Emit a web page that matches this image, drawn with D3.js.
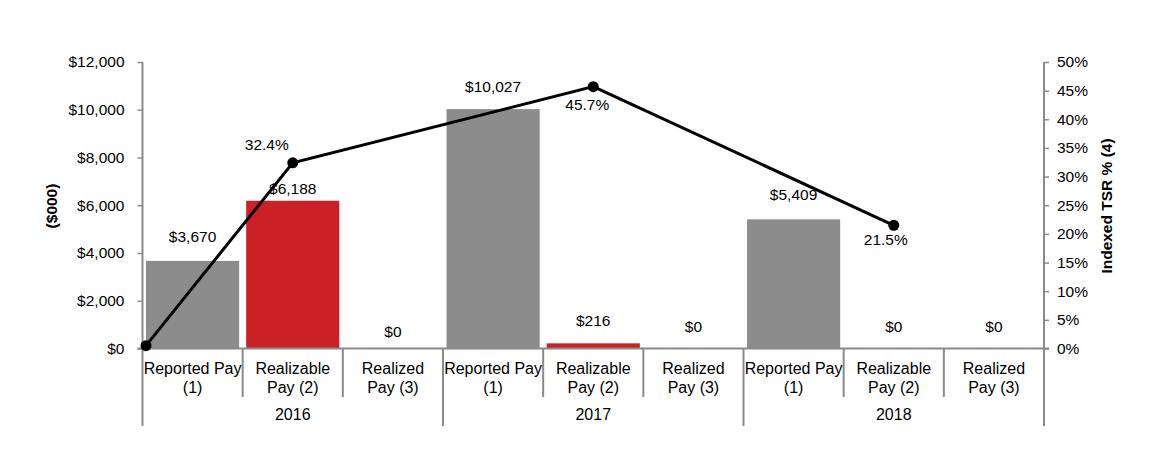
<!DOCTYPE html>
<html><head><meta charset="utf-8">
<script src="https://cdn.jsdelivr.net/npm/d3@7"></script>
<style>
body{margin:0;background:#fff;}
text{font-family:"Liberation Sans",Arial,sans-serif;fill:#000;}
</style></head>
<body><svg id="c" width="1158" height="466"></svg>
<script>
const years = ["2016","2017","2018"];
const payTypes = [["Reported Pay","(1)"],["Realizable","Pay (2)"],["Realized","Pay (3)"]];
const payValues = [3670, 6188, 0, 10027, 216, 0, 5409, 0, 0];
const payLabels = ["$3,670","$6,188","$0","$10,027","$216","$0","$5,409","$0","$0"];
const tsrAt = ["start","2016","2017","2018"];
const tsrValues = [0.5, 32.4, 45.7, 21.5];
const tsrLabels = ["", "32.4%", "45.7%", "21.5%"];
const leftTicks = [0,2000,4000,6000,8000,10000,12000];
const rightTicks = [0,5,10,15,20,25,30,35,40,45,50];

// styles (not data)
const labelLift = [24, 12, 17, 22, 22, 22, 24, 22, 22];
const tsrLabelOffset = [[0,0],[-26,-18],[-6,18],[-8,15]];
const GRAY = "#8c8c8c", RED = "#cc2027", AXIS = "#8a8a8a";

const svg = d3.select("#c");
const L = 142.5, R = 1044, T = 62, B = 348.5;

const cells = [];
years.forEach(y => payTypes.forEach((p, j) => cells.push({year: y, type: j, key: y + "|" + j})));
cells.forEach((c, i) => { c.value = payValues[i]; c.label = payLabels[i]; c.lift = labelLift[i]; });

const x = d3.scaleBand().domain(cells.map(c => c.key)).range([L, R]).padding(0);
const yL = d3.scaleLinear().domain([0, 12000]).range([B, T]);
const yR = d3.scaleLinear().domain([0, 50]).range([B, T]);
const inset = x.bandwidth() * 0.035;

// bars
svg.append("g").selectAll("rect").data(cells).join("rect")
  .attr("x", d => x(d.key) + inset)
  .attr("width", x.bandwidth() - 2 * inset)
  .attr("y", d => yL(d.value))
  .attr("height", d => B - yL(d.value))
  .attr("fill", d => d.type === 1 ? RED : GRAY);

// value labels
svg.append("g").selectAll("text").data(cells).join("text")
  .attr("x", d => x(d.key) + x.bandwidth() / 2)
  .attr("y", d => yL(d.value) - d.lift + 5)
  .attr("text-anchor", "middle")
  .style("font-size", "15.5px")
  .text(d => d.label);

// left axis
const fmt = d => "$" + d3.format(",")(d);
const gl = svg.append("g").attr("transform", `translate(${L},0)`)
  .call(d3.axisLeft(yL).tickValues(leftTicks).tickFormat(fmt).tickSize(5).tickPadding(13));
gl.select(".domain").remove();
gl.selectAll("line").attr("stroke", AXIS).attr("stroke-width", 1.5);
gl.selectAll("text").style("font-size", "15.5px").style("font-family", "Liberation Sans, Arial, sans-serif");

// right axis
const gr = svg.append("g").attr("transform", `translate(${R},0)`)
  .call(d3.axisRight(yR).tickValues(rightTicks).tickFormat(d => d + "%").tickSize(5).tickPadding(8));
gr.select(".domain").remove();
gr.selectAll("line").attr("stroke", AXIS).attr("stroke-width", 1.5);
gr.selectAll("text").style("font-size", "15.5px").style("font-family", "Liberation Sans, Arial, sans-serif");

// axis lines and category separators
const ax = svg.append("g").attr("stroke", AXIS).attr("stroke-width", 2);
ax.append("line").attr("x1", L).attr("x2", L).attr("y1", T).attr("y2", 426);
ax.append("line").attr("x1", R).attr("x2", R).attr("y1", T).attr("y2", 426);
ax.append("line").attr("x1", L - 5).attr("x2", R + 5).attr("y1", B).attr("y2", B);
cells.forEach((c, i) => {
  if (i === 0) return;
  const xx = x(c.key);
  ax.append("line").attr("x1", xx).attr("x2", xx).attr("y1", B).attr("y2", c.type === 0 ? 426 : 397);
});

// category labels
const cl = svg.append("g").style("font-size", "16px").attr("text-anchor", "middle");
cells.forEach(c => {
  const cx = x(c.key) + x.bandwidth() / 2;
  const t = cl.append("text").attr("x", cx).attr("y", 373.5);
  t.append("tspan").attr("x", cx).text(payTypes[c.type][0]);
  t.append("tspan").attr("x", cx).attr("dy", 19).text(payTypes[c.type][1]);
});
years.forEach(y => {
  const cx = x(y + "|1") + x.bandwidth() / 2;
  cl.append("text").attr("x", cx).attr("y", 420).text(y);
});

// axis titles
svg.append("text").attr("transform", "translate(57,206) rotate(-90)")
  .attr("text-anchor", "middle").style("font-size", "15.5px").style("font-weight", "bold").text("($000)");
svg.append("text").attr("transform", "translate(1112,206) rotate(-90)")
  .attr("text-anchor", "middle").style("font-size", "15.5px").style("font-weight", "bold").text("Indexed TSR % (4)");

// TSR line
const px = k => k === "start" ? x(cells[0].key) + inset : x(k + "|1") + x.bandwidth() / 2;
const pts = tsrAt.map((k, i) => ({x: px(k), y: yR(tsrValues[i]), label: tsrLabels[i], off: tsrLabelOffset[i]}));
svg.append("path").datum(pts)
  .attr("d", d3.line().x(d => d.x).y(d => d.y))
  .attr("fill", "none").attr("stroke", "#000").attr("stroke-width", 3);
svg.append("g").selectAll("circle").data(pts).join("circle")
  .attr("cx", d => d.x).attr("cy", d => d.y).attr("r", 5.5).attr("fill", "#000");
svg.append("g").selectAll("text").data(pts).join("text")
  .attr("x", d => d.x + d.off[0]).attr("y", d => d.y + d.off[1] + 5)
  .attr("text-anchor", "middle").style("font-size", "15.5px")
  .text(d => d.label);
</script></body></html>
